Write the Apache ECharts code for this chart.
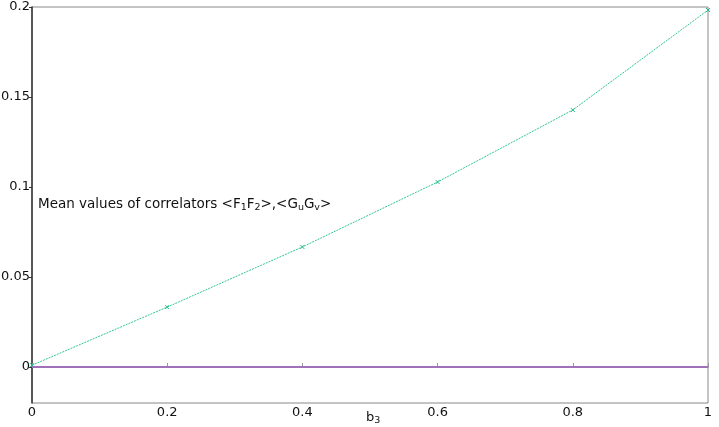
<!DOCTYPE html>
<html>
<head>
<meta charset="utf-8">
<script src="https://cdn.jsdelivr.net/npm/echarts@6/dist/echarts.min.js"></script>
<style>
  html, body { margin: 0; padding: 0; background: #fff; }
  #main { width: 719px; height: 427px; }
</style>
</head>
<body>
<div id="main"></div>
<script>
// b3 values on the x axis
var b3 = [0, 0.2, 0.4, 0.6, 0.8, 1];
// <F1F2> correlator (green)
var corrF = [0.001, 0.0333, 0.0667, 0.1028, 0.1428, 0.1983];
// <GuGv> correlator (purple)
var corrG = [0, 0, 0, 0, 0, 0];
var xTicks = [0, 0.2, 0.4, 0.6, 0.8, 1];
var yTicks = [0, 0.05, 0.1, 0.15, 0.2];

var chart = echarts.init(document.getElementById('main'));

function pairs(xs, ys) {
  var out = [];
  for (var i = 0; i < xs.length; i++) out.push([xs[i], ys[i]]);
  return out;
}

var font = 'DejaVu Sans';

var option = {
  animation: false,
  backgroundColor: '#fff',
  grid: { left: 32, right: 11, top: 7, bottom: 24, show: true, borderColor: '#888', borderWidth: 1,
    outerBoundsMode: 'none', containLabel: false },
  xAxis: {
    type: 'value',
    min: 0, max: 1,
    axisLine: { show: true, lineStyle: { color: '#999', width: 2 } },
    axisTick: { show: true, inside: true, length: 4, lineStyle: { color: '#999' }, customValues: xTicks },
    axisLabel: { color: '#111', fontFamily: font, fontSize: 13, margin: 3, customValues: xTicks,
      formatter: function (v) { return String(v); } },
    splitLine: { show: false }
  },
  yAxis: {
    type: 'value',
    min: -0.02, max: 0.2,
    axisLine: { show: true, lineStyle: { color: '#333', width: 1.5 } },
    axisTick: { show: true, length: 3, lineStyle: { color: '#333' }, customValues: yTicks },
    axisLabel: { color: '#111', fontFamily: font, fontSize: 13, margin: 2, customValues: yTicks,
      formatter: function (v) { return String(v); } },
    splitLine: { show: false }
  },
  graphic: [
    {
      type: 'text', left: 38, top: 197,
      style: {
        text: '{t|Mean values of correlators <F}{s|1}{t|F}{s|2}{t|>,<G}{s|u}{t|G}{s|v}{t|>}',
        rich: {
          t: { fontFamily: font, fontSize: 13.5, fill: '#111' },
          s: { fontFamily: font, fontSize: 9.5, fill: '#111', padding: [7, 0, 0, 0] }
        }
      }
    },
    {
      type: 'text', left: 366, top: 411,
      style: {
        text: '{b|b}{s|3}',
        rich: {
          b: { fontFamily: font, fontSize: 13, fill: '#111' },
          s: { fontFamily: font, fontSize: 9.5, fill: '#111', padding: [7, 0, 0, 0] }
        }
      }
    }
  ],
  series: [
    {
      type: 'line',
      data: pairs(b3, corrG),
      symbol: 'path://M0,0L0,10',
      symbolSize: [1, 5],
      showSymbol: true,
      itemStyle: { color: '#a040d0' },
      lineStyle: { color: '#a848d8', width: 1.2 },
      z: 3
    },
    {
      type: 'line',
      data: pairs(b3, corrF),
      symbol: 'path://M0,0L10,10M10,0L0,10',
      symbolSize: 4,
      showSymbol: true,
      itemStyle: { color: '#20b888', borderColor: '#20b888', borderWidth: 1 },
      lineStyle: { color: '#30c890', width: 1, type: [2, 1] },
      z: 4
    }
  ]
};

chart.setOption(option);
</script>
</body>
</html>
